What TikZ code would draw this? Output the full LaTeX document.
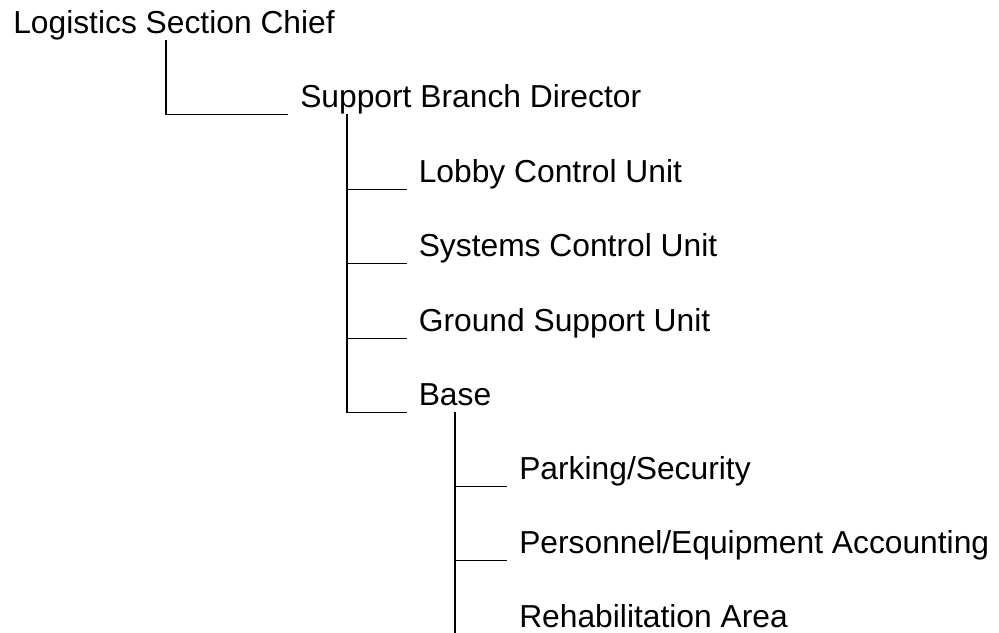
\documentclass[tikz,border=0pt]{standalone}
\usepackage{fontspec}
\setmainfont{Liberation Sans}
\usepackage{tikz}

\begin{document}
\begin{tikzpicture}[x=0.025cm,y=-0.025cm,
  role/.style={anchor=base west, inner xsep=0.3cm, inner ysep=0pt,
    text depth=0.175cm, font=\fontsize{22.6pt}{27pt}\selectfont},
  link/.style={line width=0.75pt}]
\clip (0,0) rectangle (999,632);
% section, branch and units
\node[role] (lsc) at (1,33) {Logistics Section Chief};
\node[role] (sbd) at (288,107) {Support Branch Director};
\node[role] (lcu) at (406.5,182) {Lobby Control Unit};
\node[role] (scu) at (406.5,256) {Systems Control Unit};
\node[role] (gsu) at (406.5,331) {Ground Support Unit};
\node[role] (base) at (406.5,405) {Base};
\node[role] (pas) at (507,479) {Parking/Security};
\node[role] (pea) at (507,553) {Personnel/Equipment Accounting};
\node[role] (rha) at (507,627) {Rehabilitation Area};
% elbow links
\draw[link] (lsc.south west) ++(165,0) coordinate (lsctrunk) |- (sbd.south west);
\draw[link] (sbd.south west) ++(59,0) coordinate (sbdtrunk) |- (base.south west);
\foreach \u in {lcu,scu,gsu} \draw[link] (sbdtrunk |- \u.south west) -- (\u.south west);
\draw[link] (base.south west) ++(48.5,0) coordinate (basetrunk) |- (rha.south west);
\foreach \u in {pas,pea} \draw[link] (basetrunk |- \u.south west) -- (\u.south west);
\end{tikzpicture}
\end{document}
